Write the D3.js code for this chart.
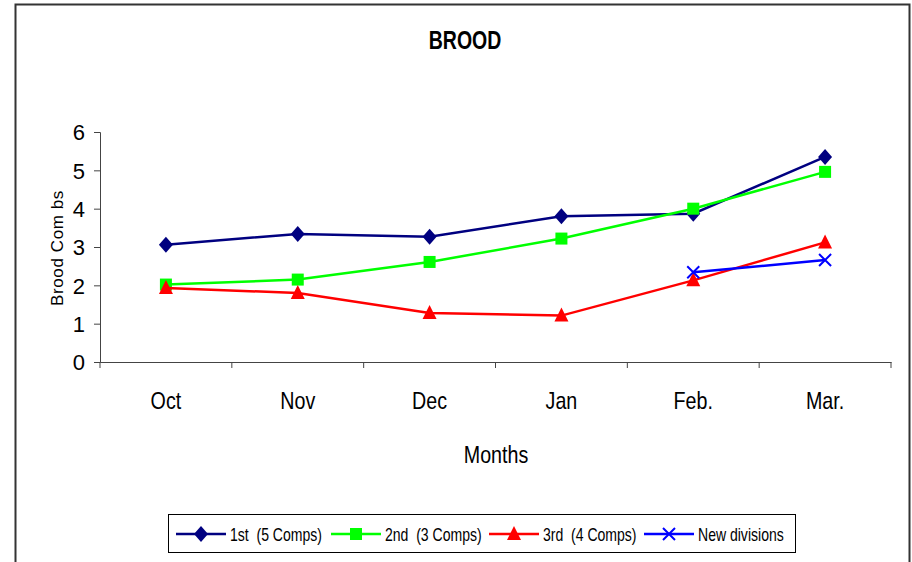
<!DOCTYPE html>
<html>
<head>
<meta charset="utf-8">
<script src="https://cdn.jsdelivr.net/npm/d3@7"></script>
<style>
  body { margin: 0; background: #fff; }
  text { font-family: "Liberation Sans", Arial, sans-serif; }
</style>
</head>
<body>
<svg id="chart"></svg>
<script>
// Data
const months = ["Oct", "Nov", "Dec", "Jan", "Feb.", "Mar."];
const first  = [3.06, 3.34, 3.27, 3.80, 3.87, 5.35];
const second = [2.02, 2.15, 2.61, 3.22, 4.00, 4.96];
const third  = [1.93, 1.80, 1.28, 1.21, 2.13, 3.12];
const newDiv = [null, null, null, null, 2.34, 2.66];
const yTicks = [0, 1, 2, 3, 4, 5, 6];

const series = [
    { name: "1st  (5 Comps)", values: first,  color: "#000080", symbol: "diamond" },
    { name: "2nd  (3 Comps)", values: second, color: "#00ff00", symbol: "square" },
    { name: "3rd  (4 Comps)", values: third,  color: "#ff0000", symbol: "triangle" },
    { name: "New divisions",  values: newDiv, color: "#0000ff", symbol: "cross" }
];

var W = 912, H = 562;
var NARROW = "scale(0.82,1)";
var svg = d3.select("#chart").attr("width", W).attr("height", H);

// outer frame
svg.append("rect")
    .attr("x", 15.5).attr("y", 4.5)
    .attr("width", 894).attr("height", 570)
    .attr("fill", "none").attr("stroke", "#333").attr("stroke-width", 2);

var x = d3.scaleBand().domain(months).range([100, 891]);
var y = d3.scaleLinear().domain([0, 6]).range([362, 132]);

// title
svg.append("g").attr("transform", "translate(465,49)")
    .append("text")
    .attr("transform", "scale(0.78,1)")
    .attr("text-anchor", "middle")
    .style("font-size", "25px").style("font-weight", "bold")
    .text("BROOD");

// y axis
var yAxis = svg.append("g")
    .attr("transform", "translate(100,0)")
    .call(d3.axisLeft(y).tickValues(yTicks).tickFormat(d3.format("d")).tickSize(6).tickPadding(9));
yAxis.selectAll("text").style("font-size", "22px").attr("fill", "#000")
    .attr("dy", "0.36em");
yAxis.selectAll("path, line").attr("stroke", "#444");

// x axis: labels at band centres, ticks at band edges
var xAxis = svg.append("g")
    .attr("transform", "translate(0,362)")
    .call(d3.axisBottom(x).tickSize(0).tickPadding(30).tickSizeOuter(0));
xAxis.selectAll("text").style("font-size", "24px").attr("fill", "#000")
    .attr("dy", "0.71em").attr("transform", NARROW);
xAxis.select(".domain").attr("stroke", "#444");
var edges = months.map(function(m) { return x(m); }).concat([x.range()[1]]);
xAxis.selectAll(".edge")
    .data(edges)
    .enter().append("line")
    .attr("x1", function(d) { return d; }).attr("x2", function(d) { return d; })
    .attr("y1", 0).attr("y2", 6)
    .attr("stroke", "#444");

// axis titles
svg.append("g").attr("transform", "translate(496,463)")
    .append("text")
    .attr("transform", NARROW)
    .attr("text-anchor", "middle")
    .style("font-size", "24px")
    .text("Months");

svg.append("text")
    .attr("transform", "translate(63,248) rotate(-90)")
    .attr("text-anchor", "middle")
    .style("font-size", "17px")
    .style("letter-spacing", "0.6px")
    .style("white-space", "pre")
    .text("Brood Com bs");

function cx(i) { return x(months[i]) + x.bandwidth() / 2; }

function drawMarker(g, symbol, color, px, py) {
    if (symbol === "diamond") {
        g.append("path")
            .attr("d", "M" + px + "," + (py - 8) + "L" + (px + 7) + "," + py + "L" + px + "," + (py + 8) + "L" + (px - 7) + "," + py + "Z")
            .attr("fill", color);
    } else if (symbol === "square") {
        g.append("rect")
            .attr("x", px - 6).attr("y", py - 6).attr("width", 12).attr("height", 12)
            .attr("fill", color);
    } else if (symbol === "triangle") {
        g.append("path")
            .attr("d", "M" + px + "," + (py - 8) + "L" + (px + 7) + "," + (py + 6) + "L" + (px - 7) + "," + (py + 6) + "Z")
            .attr("fill", color);
    } else {
        g.append("path")
            .attr("d", "M" + (px - 6) + "," + (py - 6) + "L" + (px + 6) + "," + (py + 6) + "M" + (px + 6) + "," + (py - 6) + "L" + (px - 6) + "," + (py + 6))
            .attr("stroke", color).attr("stroke-width", 2).attr("fill", "none");
    }
}

var line = d3.line()
    .defined(function(d) { return d != null; })
    .x(function(d, i) { return cx(i); })
    .y(function(d) { return y(d); });

series.forEach(function(s) {
    var g = svg.append("g");
    g.append("path")
        .attr("d", line(s.values))
        .attr("fill", "none")
        .attr("stroke", s.color)
        .attr("stroke-width", 2.5);
    s.values.forEach(function(v, i) {
        if (v != null) drawMarker(g, s.symbol, s.color, cx(i), y(v));
    });
});

// legend
svg.append("rect")
    .attr("x", 168.5).attr("y", 514.5)
    .attr("width", 627).attr("height", 38)
    .attr("fill", "#fff").attr("stroke", "#000").attr("stroke-width", 1);

var legendX = [176, 331, 489, 644];
series.forEach(function(s, i) {
    var g = svg.append("g").attr("transform", "translate(" + legendX[i] + ",534)");
    g.append("line")
        .attr("x1", 0).attr("x2", 50).attr("y1", 0).attr("y2", 0)
        .attr("stroke", s.color).attr("stroke-width", 2.5);
    drawMarker(g, s.symbol, s.color, 25, 0);
    g.append("g").attr("transform", "translate(54,7)")
        .append("text")
        .attr("transform", "scale(0.78,1)")
        .style("font-size", "18px")
        .style("white-space", "pre")
        .text(s.name);
});
</script>
</body>
</html>
